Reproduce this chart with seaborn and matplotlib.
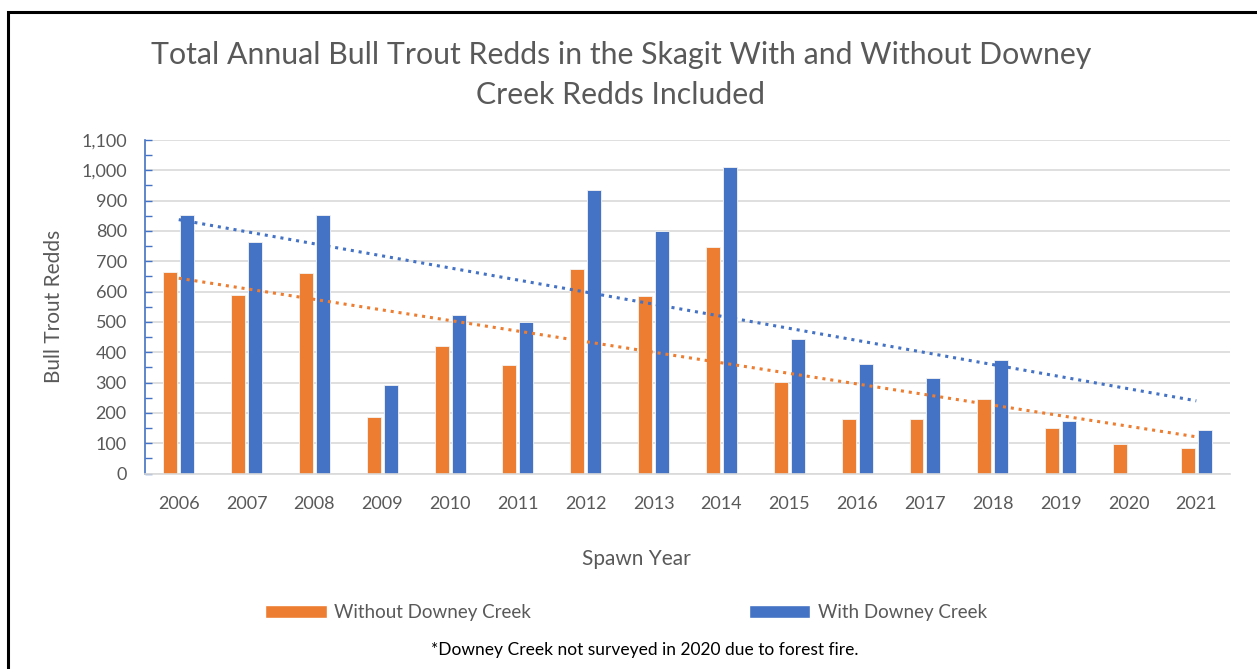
import numpy as np
import pandas as pd
import seaborn as sns
import matplotlib.pyplot as plt
from matplotlib.patches import Rectangle, Patch
from matplotlib.ticker import MultipleLocator, FuncFormatter

years = [str(y) for y in range(2006, 2022)]
without_downey = [665, 588, 660, 185, 420, 357, 676, 587, 748, 303, 179, 179, 245, 149, 97, 84]
with_downey = [853, 764, 853, 291, 522, 499, 935, 800, 1012, 445, 361, 314, 373, 173, np.nan, 143]
series_names = ["Without Downey Creek", "With Downey Creek"]

ORANGE = "#ED7D31"
BLUE = "#4472C4"
GREY = "#595959"

df = pd.DataFrame({
    "year": years * 2,
    "redds": without_downey + with_downey,
    "series": [series_names[0]] * len(years) + [series_names[1]] * len(years),
})

sns.set_style("white")
plt.rcParams["font.family"] = ["Lato", "DejaVu Sans"]

fig = plt.figure(figsize=(12.57, 6.69), dpi=100)
ax = fig.add_axes([0.1152, 0.2922, 0.8635, 0.4985])

sns.barplot(data=df, x="year", y="redds", hue="series", order=years,
            hue_order=series_names, palette=[ORANGE, BLUE], saturation=1,
            width=0.5, gap=0.18, edgecolor="#f4f4f4", linewidth=0.6,
            legend=False, ax=ax)

# linear trendlines (like Excel), skipping missing years
xs = np.arange(len(years))
for vals, col in [(without_downey, ORANGE), (with_downey, BLUE)]:
    v = np.array(vals, dtype=float)
    ok = ~np.isnan(v)
    k, b = np.polyfit(xs[ok], v[ok], 1)
    ax.plot(xs, k * xs + b, color=col, linestyle=(0, (1, 1.6)), linewidth=2.2, zorder=3)

ax.set_xlim(-0.5, len(years) - 0.5)
ax.set_ylim(0, 1100)
ax.yaxis.set_major_locator(MultipleLocator(100))
ax.yaxis.set_minor_locator(MultipleLocator(50))
ax.yaxis.set_major_formatter(FuncFormatter(lambda v, p: f"{int(v):,}"))
ax.grid(axis="y", color="#D9D9D9", linewidth=1.2)
ax.set_axisbelow(True)

for s in ["top", "right"]:
    ax.spines[s].set_visible(False)
ax.spines["left"].set_color(BLUE)
ax.spines["left"].set_linewidth(1.2)
ax.spines["bottom"].set_color("#D9D9D9")
ax.spines["bottom"].set_linewidth(1.2)

ax.tick_params(axis="y", which="both", left=True, direction="in", color=BLUE,
               length=5, width=1.0, labelsize=13, labelcolor=GREY, pad=13)
ax.tick_params(axis="y", which="minor", length=5)
ax.tick_params(axis="x", bottom=False, labelsize=13, labelcolor=GREY, pad=13)

ax.set_xlabel("Spawn Year", fontsize=15, color=GREY, labelpad=26)
ax.xaxis.set_label_coords(0.4526, -0.225)
ax.set_ylabel("Bull Trout Redds", fontsize=15, color=GREY, labelpad=12)

fig.text(0.494, 0.918, "Total Annual Bull Trout Redds in the Skagit With and Without Downey",
         ha="center", va="center", fontsize=21.8, color=GREY)
fig.text(0.494, 0.858, "Creek Redds Included",
         ha="center", va="center", fontsize=21.8, color=GREY)

handles = [Patch(facecolor=ORANGE, label=series_names[0]),
           Patch(facecolor=BLUE, label=series_names[1])]
fig.legend(handles=handles, loc="center", bbox_to_anchor=(0.498, 0.085), ncol=2,
           frameon=False, fontsize=13.5, labelcolor=GREY, handlelength=3.3,
           handleheight=0.7, handletextpad=0.4, columnspacing=11.6)

fig.text(0.513, 0.028, "*Downey Creek not surveyed in 2020 due to forest fire.",
         ha="center", va="center", fontsize=12.5, color="black")

# outer chart frame
fig.patches.append(Rectangle((8 / 1257, -0.01), 1.01, 0.997 - 10 / 669 + 0.01,
                             transform=fig.transFigure, fill=False,
                             edgecolor="black", linewidth=2.2))

fig.savefig("out.png", dpi=100, facecolor="white")
